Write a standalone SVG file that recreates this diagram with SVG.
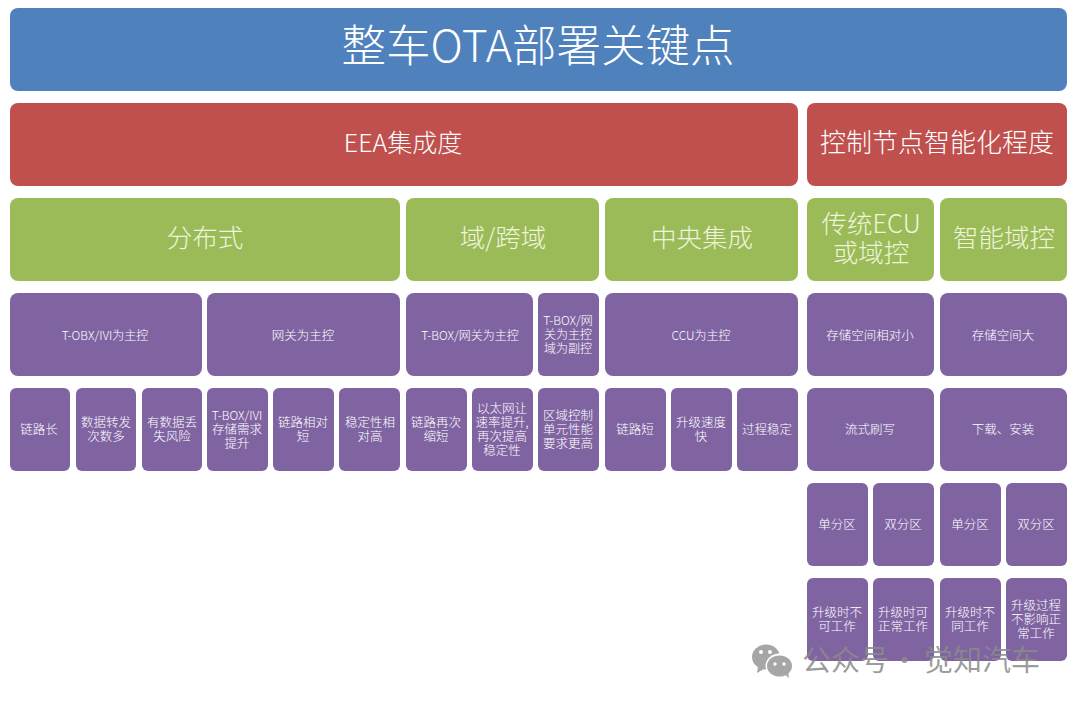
<svg xmlns="http://www.w3.org/2000/svg" width="1075" height="704" viewBox="0 0 1075 704">
<style>
text{font-family:"Noto Sans CJK SC","Noto Sans",sans-serif;fill:#fff;text-anchor:middle;font-weight:300}
.b{fill:#4f81bd}.r{fill:#c0504d}.g{fill:#9bbb59}.p{fill:#8064a2}
.t1{font-size:44.5px}.t2{font-size:25px}.t2c{font-size:26px}.t3{font-size:12.5px}.t4{font-size:12px}
.lg{fill:#eef5dc;font-size:25.5px}
.wm{font-size:29px;fill:#8a8a8a;fill-opacity:.85;text-anchor:start;font-weight:400}
.ic{fill:#a6a6a6}
</style>
<rect width="1075" height="704" fill="#fff"/>
<g id="title"><rect class="b" x="10" y="8" width="1057" height="83" rx="8"/><text class="t1" x="538" y="62">整车OTA部署关键点</text></g>
<g id="eea"><rect class="r" x="10" y="103" width="788" height="83" rx="8"/><text class="t2" x="403" y="152">EEA集成度</text></g>
<g id="ctrl"><rect class="r" x="807" y="103" width="260" height="83" rx="8"/><text class="t2c" x="937" y="152">控制节点智能化程度</text></g>
<g id="dist"><rect class="g" x="10" y="198" width="390" height="83" rx="8"/><text class="lg" x="205" y="247">分布式</text></g>
<g id="domain"><rect class="g" x="406" y="198" width="193" height="83" rx="8"/><text class="lg" x="503" y="247">域/跨域</text></g>
<g id="central"><rect class="g" x="605" y="198" width="193" height="83" rx="8"/><text class="lg" x="702" y="247">中央集成</text></g>
<g id="trad"><rect class="g" x="807" y="198" width="127" height="83" rx="8"/><text class="lg" x="871" y="233">传统ECU<tspan x="871" y="262">或域控</tspan></text></g>
<g id="smart"><rect class="g" x="940" y="198" width="127" height="83" rx="8"/><text class="lg" x="1004" y="247">智能域控</text></g>

<g id="m1"><rect class="p" x="10" y="293" width="192" height="83" rx="8"/><text class="t4" x="105" y="340">T-OBX/IVI为主控</text></g>
<g id="m2"><rect class="p" x="207" y="293" width="193" height="83" rx="8"/><text class="t3" x="303" y="340">网关为主控</text></g>
<g id="m3"><rect class="p" x="406" y="293" width="127" height="83" rx="8"/><text class="t4" x="470" y="340">T-BOX/网关为主控</text></g>
<g id="m4"><rect class="p" x="538" y="293" width="61" height="83" rx="6"/><text class="t4" x="568" y="325">T-BOX/网<tspan x="568" y="339">关为主控</tspan><tspan x="568" y="353">域为副控</tspan></text></g>
<g id="m5"><rect class="p" x="605" y="293" width="193" height="83" rx="8"/><text class="t4" x="701" y="340">CCU为主控</text></g>
<g id="m6"><rect class="p" x="807" y="293" width="127" height="83" rx="8"/><text class="t3" x="870" y="340">存储空间相对小</text></g>
<g id="m7"><rect class="p" x="940" y="293" width="127" height="83" rx="8"/><text class="t3" x="1003" y="340">存储空间大</text></g>

<g id="n1"><rect class="p" x="10" y="388" width="60" height="83" rx="6"/><text class="t3" x="39" y="434">链路长</text></g>
<g id="n2"><rect class="p" x="76" y="388" width="60" height="83" rx="6"/><text class="t3" x="106" y="427">数据转发<tspan x="106" y="441">次数多</tspan></text></g>
<g id="n3"><rect class="p" x="142" y="388" width="60" height="83" rx="6"/><text class="t3" x="172" y="427">有数据丢<tspan x="172" y="441">失风险</tspan></text></g>
<g id="n4"><rect class="p" x="207" y="388" width="61" height="83" rx="6"/><text class="t3" x="237" y="420"><tspan class="t4">T-BOX/IVI</tspan><tspan x="237" y="434">存储需求</tspan><tspan x="237" y="448">提升</tspan></text></g>
<g id="n5"><rect class="p" x="273" y="388" width="61" height="83" rx="6"/><text class="t3" x="303" y="427">链路相对<tspan x="303" y="441">短</tspan></text></g>
<g id="n6"><rect class="p" x="339" y="388" width="61" height="83" rx="6"/><text class="t3" x="370" y="427">稳定性相<tspan x="370" y="441">对高</tspan></text></g>
<g id="n7"><rect class="p" x="406" y="388" width="61" height="83" rx="6"/><text class="t3" x="436" y="427">链路再次<tspan x="436" y="441">缩短</tspan></text></g>
<g id="n8"><rect class="p" x="472" y="388" width="61" height="83" rx="6"/><text class="t3" x="502" y="413">以太网让<tspan x="502" y="427">速率提升,</tspan><tspan x="502" y="441">再次提高</tspan><tspan x="502" y="455">稳定性</tspan></text></g>
<g id="n9"><rect class="p" x="538" y="388" width="61" height="83" rx="6"/><text class="t3" x="568" y="420">区域控制<tspan x="568" y="434">单元性能</tspan><tspan x="568" y="448">要求更高</tspan></text></g>
<g id="n10"><rect class="p" x="605" y="388" width="61" height="83" rx="6"/><text class="t3" x="635" y="434">链路短</text></g>
<g id="n11"><rect class="p" x="671" y="388" width="61" height="83" rx="6"/><text class="t3" x="701" y="427">升级速度<tspan x="701" y="441">快</tspan></text></g>
<g id="n12"><rect class="p" x="737" y="388" width="61" height="83" rx="6"/><text class="t3" x="767" y="434">过程稳定</text></g>
<g id="n13"><rect class="p" x="807" y="388" width="127" height="83" rx="8"/><text class="t3" x="870" y="434">流式刷写</text></g>
<g id="n14"><rect class="p" x="940" y="388" width="127" height="83" rx="8"/><text class="t3" x="1003" y="434">下载、安装</text></g>

<g id="o1"><rect class="p" x="807" y="483" width="61" height="83" rx="6"/><text class="t3" x="837" y="529">单分区</text></g>
<g id="o2"><rect class="p" x="873" y="483" width="61" height="83" rx="6"/><text class="t3" x="903" y="529">双分区</text></g>
<g id="o3"><rect class="p" x="940" y="483" width="61" height="83" rx="6"/><text class="t3" x="970" y="529">单分区</text></g>
<g id="o4"><rect class="p" x="1006" y="483" width="61" height="83" rx="6"/><text class="t3" x="1036" y="529">双分区</text></g>

<g id="q1"><rect class="p" x="807" y="578" width="61" height="83" rx="6"/><text class="t3" x="837" y="617">升级时不<tspan x="837" y="631">可工作</tspan></text></g>
<g id="q2"><rect class="p" x="873" y="578" width="61" height="83" rx="6"/><text class="t3" x="903" y="617">升级时可<tspan x="903" y="631">正常工作</tspan></text></g>
<g id="q3"><rect class="p" x="940" y="578" width="61" height="83" rx="6"/><text class="t3" x="970" y="617">升级时不<tspan x="970" y="631">同工作</tspan></text></g>
<g id="q4"><rect class="p" x="1006" y="578" width="61" height="83" rx="6"/><text class="t3" x="1036" y="610">升级过程<tspan x="1036" y="624">不影响正</tspan><tspan x="1036" y="638">常工作</tspan></text></g>

<g id="watermark">
<ellipse class="ic" cx="766" cy="657" rx="14" ry="12.5"/>
<path class="ic" d="M758 666l-1 7 7-4z"/>
<ellipse cx="779.5" cy="666" rx="14" ry="12.5" fill="#fff"/>
<ellipse class="ic" cx="779.5" cy="666" rx="12.5" ry="10.5"/>
<path class="ic" d="M784 674l5 4-1-7z"/>
<circle cx="761" cy="652" r="2" fill="#fff"/><circle cx="770" cy="652" r="2" fill="#fff"/>
<circle cx="775" cy="664" r="1.7" fill="#fff"/><circle cx="784" cy="664" r="1.7" fill="#fff"/>
<text class="wm" x="802" y="671">公众号<tspan x="890" y="671">·</tspan><tspan x="924" y="671">觉知汽车</tspan></text>
</g>
</svg>
